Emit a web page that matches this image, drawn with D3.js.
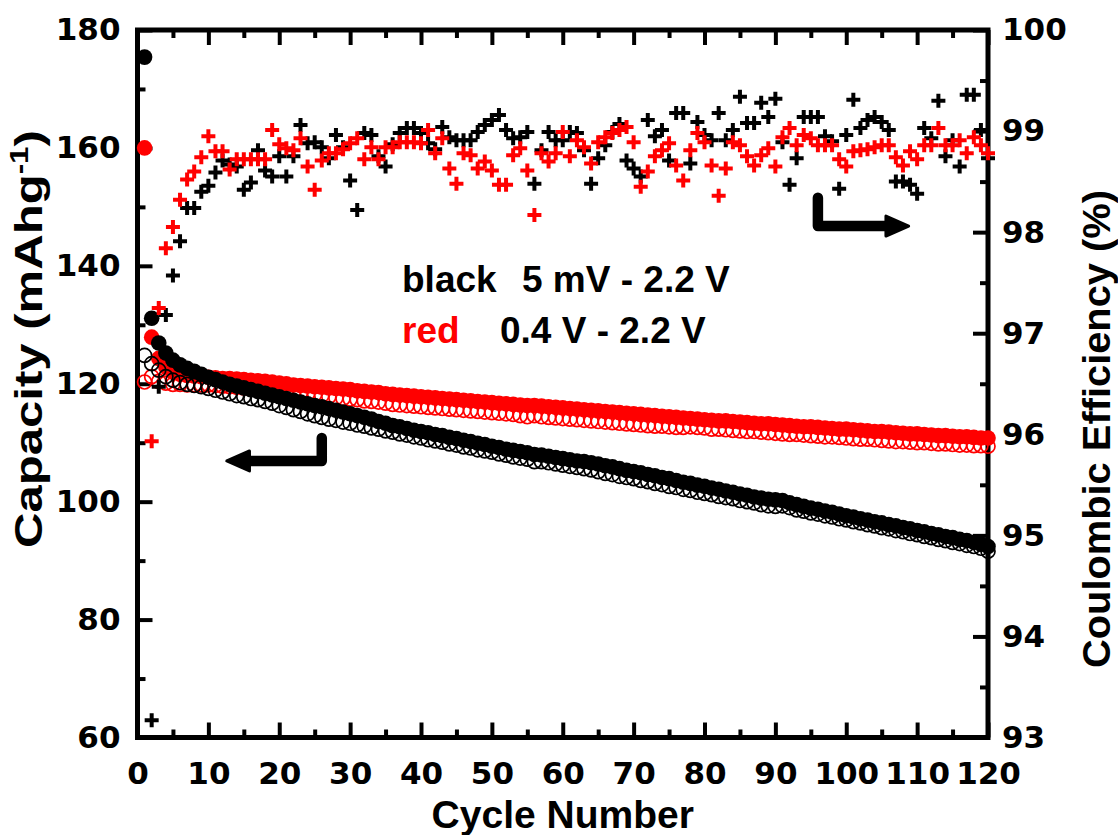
<!DOCTYPE html>
<html>
<head>
<meta charset="utf-8">
<script src="https://cdn.jsdelivr.net/npm/d3@7"></script>
<style>
  body { margin: 0; background: #fff; }
</style>
</head>
<body>
<svg id="chart" width="1118" height="835"></svg>
<script>
// cycle numbers 1..120
const cycleNumbers = d3.range(1, 121);

// capacity (mAh/g), 5 mV - 2.2 V (black)
const blackCapFilled = [
  175.4, 131.1, 126.9, 125.2, 124.0, 123.2, 122.6, 122.1, 121.6, 121.1,
  120.7, 120.3, 119.9, 119.6, 119.3, 119.0, 118.7, 118.4, 118.1, 117.8,
  117.5, 117.2, 116.9, 116.6, 116.3, 116.1, 115.8, 115.5, 115.2, 114.9,
  114.6, 114.3, 114.0, 113.6, 113.3, 112.9, 112.7, 112.4, 112.1, 111.9,
  111.7, 111.4, 111.2, 110.9, 110.7, 110.4, 110.2, 109.9, 109.7, 109.4,
  109.2, 108.9, 108.7, 108.5, 108.3, 108.0, 107.9, 107.7, 107.5, 107.3,
  107.1, 106.9, 106.8, 106.6, 106.4, 106.1, 105.9, 105.6, 105.3, 105.1,
  104.9, 104.6, 104.4, 104.1, 103.9, 103.6, 103.3, 103.1, 102.8, 102.6,
  102.3, 102.1, 101.8, 101.6, 101.3, 101.1, 100.8, 100.6, 100.4, 100.3,
  100.2, 99.8, 99.5, 99.2, 98.9, 98.7, 98.4, 98.2, 97.9, 97.6,
  97.4, 97.1, 96.9, 96.6, 96.4, 96.1, 95.9, 95.6, 95.4, 95.1,
  94.9, 94.6, 94.4, 94.1, 93.9, 93.6, 93.4, 93.1, 92.8, 92.4
];
const blackCapOpen = [
  124.8, 123.4, 122.3, 121.2, 120.6, 120.2, 119.9, 119.7, 119.5, 119.2,
  118.9, 118.6, 118.3, 118.0, 117.8, 117.5, 117.3, 117.0, 116.7, 116.3,
  116.0, 115.6, 115.3, 114.9, 114.6, 114.3, 114.0, 113.8, 113.5, 113.3,
  113.0, 112.8, 112.5, 112.3, 112.0, 111.8, 111.5, 111.3, 111.0, 110.8,
  110.5, 110.3, 110.1, 109.8, 109.6, 109.3, 109.1, 108.8, 108.6, 108.4,
  108.1, 107.9, 107.6, 107.4, 107.2, 106.8, 106.8, 106.6, 106.4, 106.2,
  106.0, 105.8, 105.6, 105.4, 105.1, 104.8, 104.6, 104.3, 104.1, 103.9,
  103.6, 103.4, 103.1, 102.9, 102.6, 102.4, 102.1, 101.9, 101.6, 101.4,
  101.2, 100.9, 100.7, 100.5, 100.2, 100.0, 99.8, 99.5, 99.3, 99.2,
  99.3, 99.0, 98.6, 98.4, 98.1, 97.9, 97.6, 97.4, 97.1, 96.9,
  96.6, 96.4, 96.1, 95.9, 95.6, 95.4, 95.1, 94.9, 94.6, 94.4,
  94.1, 93.9, 93.6, 93.4, 93.1, 92.9, 92.6, 92.4, 92.1, 91.6
];

// capacity (mAh/g), 0.4 V - 2.2 V (red)
const redCapFilled = [
  160.0, 127.9, 124.3, 122.8, 122.0, 121.6, 121.4, 121.3, 121.2, 121.1,
  121.0, 120.9, 120.9, 120.8, 120.7, 120.6, 120.5, 120.4, 120.3, 120.1,
  120.0, 119.8, 119.7, 119.6, 119.5, 119.4, 119.3, 119.2, 119.1, 119.0,
  118.8, 118.7, 118.6, 118.5, 118.3, 118.2, 118.1, 118.0, 117.9, 117.8,
  117.7, 117.6, 117.5, 117.4, 117.3, 117.2, 117.1, 117.0, 116.9, 116.8,
  116.7, 116.6, 116.5, 116.4, 116.3, 116.3, 116.2, 116.1, 116.0, 115.9,
  115.8, 115.7, 115.6, 115.5, 115.4, 115.3, 115.2, 115.1, 115.0, 114.9,
  114.8, 114.7, 114.6, 114.5, 114.4, 114.3, 114.2, 114.1, 114.0, 113.9,
  113.8, 113.7, 113.7, 113.6, 113.5, 113.4, 113.3, 113.2, 113.2, 113.1,
  113.0, 112.9, 112.8, 112.7, 112.7, 112.6, 112.5, 112.4, 112.3, 112.3,
  112.2, 112.1, 112.0, 111.9, 111.9, 111.8, 111.7, 111.6, 111.5, 111.5,
  111.4, 111.3, 111.2, 111.2, 111.1, 111.0, 111.0, 110.9, 110.8, 110.8
];
const redCapOpen = [
  120.3, 121.2, 120.4, 120.1, 119.9, 119.9, 119.8, 119.8, 119.8, 119.8,
  119.7, 119.6, 119.5, 119.4, 119.3, 119.3, 119.2, 119.1, 119.1, 118.9,
  118.8, 118.6, 118.5, 118.3, 118.2, 118.0, 117.8, 117.6, 117.5, 117.4,
  117.3, 117.1, 117.0, 116.9, 116.7, 116.5, 116.4, 116.3, 116.2, 116.1,
  116.0, 115.9, 115.8, 115.7, 115.6, 115.5, 115.4, 115.3, 115.2, 115.1,
  115.0, 114.9, 114.8, 114.6, 114.4, 114.6, 114.4, 114.3, 114.2, 114.1,
  114.0, 113.9, 113.8, 113.7, 113.6, 113.5, 113.4, 113.3, 113.2, 113.1,
  113.0, 112.9, 112.8, 112.8, 112.7, 112.6, 112.6, 112.7, 112.6, 112.5,
  112.3, 112.3, 112.2, 112.1, 112.0, 111.9, 111.9, 111.8, 111.7, 111.6,
  111.5, 111.4, 111.4, 111.3, 111.2, 111.1, 111.0, 111.0, 110.9, 110.8,
  110.7, 110.6, 110.6, 110.5, 110.4, 110.3, 110.2, 110.2, 110.1, 110.0,
  110.0, 109.9, 109.8, 109.8, 109.7, 109.6, 109.6, 109.5, 109.5, 109.4
];

// coulombic efficiency (%), first cycle is off scale
const blackCE = [
  null, 93.17, 96.47, 97.18, 97.57, 97.91, 98.24, 98.24, 98.40, 98.46,
  98.59, 98.71, 98.67, 98.65, 98.42, 98.49, 98.81, 98.61, 98.55, 98.75,
  98.55, 98.75, 99.06, 98.88, 98.89, 98.84, 98.73, 98.96, 98.84, 98.51,
  98.22, 98.98, 98.96, 98.75, 98.65, 98.87, 98.98, 99.03, 99.03, 98.98,
  98.88, 98.82, 99.04, 98.94, 98.91, 98.91, 98.91, 98.99, 99.06, 99.11,
  99.16, 99.01, 98.93, 98.94, 98.99, 98.48, 98.81, 98.99, 98.91, 98.91,
  98.99, 98.98, 98.81, 98.48, 98.73, 98.86, 98.99, 99.07, 98.71, 98.63,
  98.55, 99.11, 98.95, 99.01, 98.71, 99.18, 99.18, 98.68, 99.09, 98.96,
  98.91, 99.18, 98.91, 99.01, 99.34, 99.08, 99.08, 99.28, 99.14, 99.32,
  98.89, 98.47, 98.73, 99.14, 99.14, 99.14, 98.95, 98.90, 98.43, 98.96,
  99.31, 99.03, 99.11, 99.14, 99.09, 99.01, 98.50, 98.50, 98.47, 98.38,
  99.03, 98.93, 99.30, 98.75, 98.91, 98.65, 99.36, 99.36, 99.01, 98.73
];
const redCE = [
  null, 95.93, 97.25, 97.84, 98.05, 98.32, 98.52, 98.60, 98.74, 98.95,
  98.80, 98.80, 98.62, 98.72, 98.72, 98.72, 98.72, 98.72, 99.01, 98.87,
  98.83, 98.81, 98.93, 98.65, 98.42, 98.71, 98.78, 98.78, 98.82, 98.88,
  98.93, 98.72, 98.84, 98.72, 98.84, 98.84, 98.89, 98.89, 98.89, 98.88,
  99.01, 98.78, 98.93, 98.63, 98.48, 98.78, 98.76, 98.63, 98.70, 98.61,
  98.47, 98.47, 98.76, 98.83, 98.61, 98.17, 98.78, 98.70, 98.78, 98.99,
  98.75, 98.91, 98.84, 98.68, 98.89, 98.94, 98.98, 99.01, 99.04, 98.89,
  98.45, 98.60, 98.75, 98.81, 98.88, 98.66, 98.51, 98.81, 98.98, 98.89,
  98.66, 98.36, 98.63, 98.89, 98.86, 98.75, 98.66, 98.76, 98.83, 98.65,
  98.94, 99.03, 98.86, 98.96, 98.93, 98.86, 98.86, 98.86, 98.72, 98.65,
  98.80, 98.81, 98.82, 98.84, 98.86, 98.86, 98.74, 98.66, 98.80, 98.72,
  98.86, 98.86, 99.03, 98.86, 98.86, 98.91, 98.78, 98.94, 98.86, 98.78
];

// tick values
const xTicks = [0, 10, 20, 30, 40, 50, 60, 70, 80, 90, 100, 110, 120];
const xMinorTicks = [5, 15, 25, 35, 45, 55, 65, 75, 85, 95, 105, 115];
const capTicks = [60, 80, 100, 120, 140, 160, 180];
const capMinorTicks = [70, 90, 110, 130, 150, 170];
const ceTicks = [93, 94, 95, 96, 97, 98, 99, 100];
const ceMinorTicks = [93.5, 94.5, 95.5, 96.5, 97.5, 98.5, 99.5];

const RED = "#ff0000";
const BLACK = "#000000";
const tickFont = "'DejaVu Sans', sans-serif";
const textFont = "'Liberation Sans', Arial, sans-serif";

let plot = {left: 137.5, right: 988, top: 30, bottom: 737.5};
let svg = d3.select("#chart");

let x = d3.scaleLinear().domain([0, 120]).range([plot.left, plot.right]);
let yCap = d3.scaleLinear().domain([60, 180]).range([plot.bottom, plot.top]);
let yCE = d3.scaleLinear().domain([93, 100]).range([plot.bottom, plot.top]);

function styleAxis(g) {
  g.select(".domain").remove();
  g.selectAll(".tick line")
    .attr("stroke", BLACK)
    .attr("stroke-width", 4);
  g.selectAll(".tick text")
    .attr("fill", BLACK)
    .style("font-family", tickFont)
    .style("font-weight", "bold")
    .style("font-size", "31px");
}

// bottom axis
svg.append("g")
  .attr("transform", "translate(0," + plot.bottom + ")")
  .call(d3.axisBottom(x).tickValues(xTicks).tickSizeInner(-15).tickSizeOuter(0).tickPadding(24))
  .call(styleAxis);
svg.append("g")
  .attr("transform", "translate(0," + plot.bottom + ")")
  .call(d3.axisBottom(x).tickValues(xMinorTicks).tickSizeInner(-8).tickSizeOuter(0).tickFormat(""))
  .call(styleAxis);

// top axis (ticks only)
svg.append("g")
  .attr("transform", "translate(0," + plot.top + ")")
  .call(d3.axisTop(x).tickValues(xTicks).tickSizeInner(-15).tickSizeOuter(0).tickFormat(""))
  .call(styleAxis);
svg.append("g")
  .attr("transform", "translate(0," + plot.top + ")")
  .call(d3.axisTop(x).tickValues(xMinorTicks).tickSizeInner(-8).tickSizeOuter(0).tickFormat(""))
  .call(styleAxis);

// left axis, capacity
svg.append("g")
  .attr("transform", "translate(" + plot.left + ",0)")
  .call(d3.axisLeft(yCap).tickValues(capTicks).tickSizeInner(-15).tickSizeOuter(0).tickPadding(17))
  .call(styleAxis);
svg.append("g")
  .attr("transform", "translate(" + plot.left + ",0)")
  .call(d3.axisLeft(yCap).tickValues(capMinorTicks).tickSizeInner(-8).tickSizeOuter(0).tickFormat(""))
  .call(styleAxis);

// right axis, coulombic efficiency
svg.append("g")
  .attr("transform", "translate(" + plot.right + ",0)")
  .call(d3.axisRight(yCE).tickValues(ceTicks).tickFormat(d3.format("d")).tickSizeInner(-15).tickSizeOuter(0).tickPadding(14))
  .call(styleAxis);
svg.append("g")
  .attr("transform", "translate(" + plot.right + ",0)")
  .call(d3.axisRight(yCE).tickValues(ceMinorTicks).tickSizeInner(-8).tickSizeOuter(0).tickFormat(""))
  .call(styleAxis);

// frame
svg.append("rect")
  .attr("x", plot.left)
  .attr("y", plot.top)
  .attr("width", plot.right - plot.left)
  .attr("height", plot.bottom - plot.top)
  .attr("fill", "none")
  .attr("stroke", BLACK)
  .attr("stroke-width", 5);

// capacity circles
function drawCircles(values, color, filled) {
  svg.append("g")
    .selectAll("circle")
    .data(values)
    .join("circle")
    .attr("cx", (d, i) => x(cycleNumbers[i]))
    .attr("cy", d => yCap(d))
    .attr("r", filled ? 7.8 : 7)
    .attr("fill", filled ? color : "none")
    .attr("stroke", color)
    .attr("stroke-width", filled ? 0 : 1.7);
}
drawCircles(redCapFilled, RED, true);
drawCircles(redCapOpen, RED, false);
drawCircles(blackCapFilled, BLACK, true);
drawCircles(blackCapOpen, BLACK, false);

// coulombic efficiency crosses
function drawCrosses(values, color) {
  let pts = values.map((v, i) => ({c: cycleNumbers[i], v: v})).filter(p => p.v !== null);
  svg.append("g")
    .selectAll("path")
    .data(pts)
    .join("path")
    .attr("transform", p => "translate(" + x(p.c) + "," + yCE(p.v) + ")")
    .attr("d", "M-7,0H7M0,-7V7")
    .attr("stroke", color)
    .attr("stroke-width", 4)
    .attr("fill", "none");
}
drawCrosses(blackCE, BLACK);
drawCrosses(redCE, RED);

// arrows pointing at the axes
function drawArrow(x0, y0, xc, yc, xHead, xTip) {
  svg.append("path")
    .attr("d", "M" + x0 + "," + y0 + "L" + xc + "," + yc + "L" + xHead + "," + yc)
    .attr("fill", "none")
    .attr("stroke", BLACK)
    .attr("stroke-width", 10.5)
    .attr("stroke-linecap", "round")
    .attr("stroke-linejoin", "round");
  svg.append("path")
    .attr("d", "M" + xTip + "," + yc + "L" + xHead + "," + (yc - 10) + "L" + xHead + "," + (yc + 10) + "Z")
    .attr("fill", BLACK)
    .attr("stroke", BLACK)
    .attr("stroke-width", 3)
    .attr("stroke-linejoin", "round");
}
drawArrow(x(26), yCap(110.8), x(26), yCap(106.9), x(15.8), x(12.6));
drawArrow(x(96), yCE(98.34), x(96), yCE(98.06), x(105.6), x(108.8));

// legend text
function addText(tx, ty, str, color) {
  svg.append("text")
    .attr("x", tx)
    .attr("y", ty)
    .text(str)
    .attr("fill", color)
    .style("font-family", textFont)
    .style("font-weight", "bold")
    .style("font-size", "37px");
}
addText(402, 292, "black", BLACK);
addText(522, 292, "5 mV - 2.2 V", BLACK);
addText(402, 343, "red", RED);
addText(500, 343, "0.4 V - 2.2 V", BLACK);

// axis titles
svg.append("text")
  .attr("x", (plot.left + plot.right) / 2)
  .attr("y", 828)
  .text("Cycle Number")
  .attr("fill", BLACK)
  .style("font-family", textFont)
  .style("font-weight", "bold")
  .style("font-size", "39px")
  .style("text-anchor", "middle");

let capTitle = svg.append("text")
  .attr("transform", "translate(42,339) rotate(-90)")
  .attr("fill", BLACK)
  .attr("textLength", 418)
  .attr("lengthAdjust", "spacingAndGlyphs")
  .style("font-family", textFont)
  .style("font-weight", "bold")
  .style("font-size", "39px")
  .style("text-anchor", "middle");
capTitle.append("tspan").text("Capacity (mAhg");
capTitle.append("tspan").attr("dy", -14).style("font-size", "25px").text("-1");
capTitle.append("tspan").attr("dy", 14).text(")");

svg.append("text")
  .attr("transform", "translate(1110,429) rotate(-90)")
  .text("Coulombic Efficiency (%)")
  .attr("fill", BLACK)
  .attr("textLength", 478)
  .attr("lengthAdjust", "spacingAndGlyphs")
  .style("font-family", textFont)
  .style("font-weight", "bold")
  .style("font-size", "39px")
  .style("text-anchor", "middle");
</script>
</body>
</html>
